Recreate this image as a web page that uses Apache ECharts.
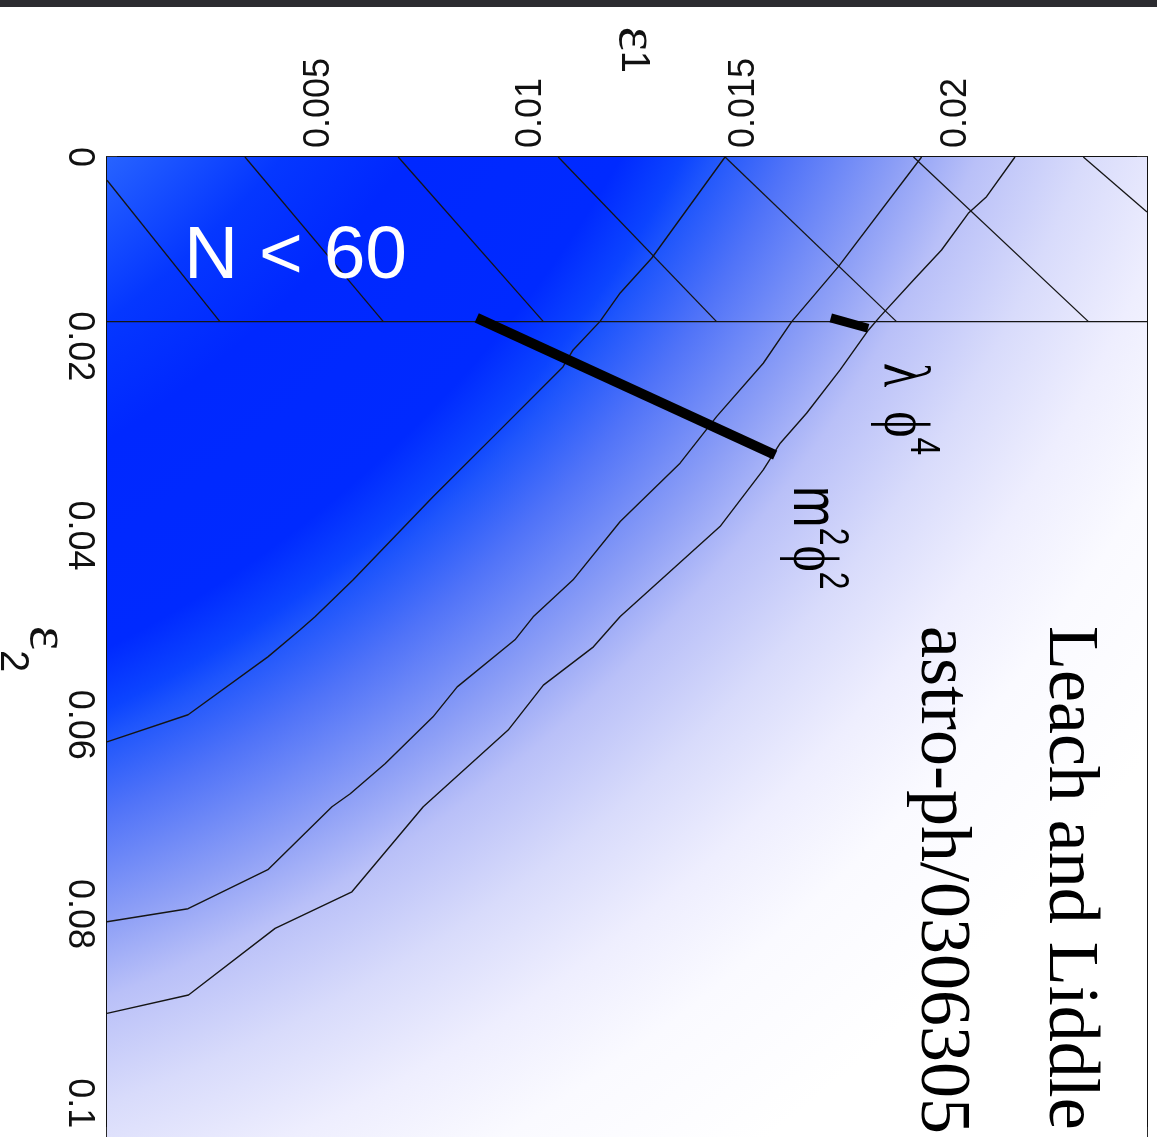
<!DOCTYPE html>
<html>
<head>
<meta charset="utf-8">
<script src="https://cdn.jsdelivr.net/npm/echarts@6/dist/echarts.min.js"></script>
<style>
html, body { margin: 0; padding: 0; background: #ffffff; }
#chart { width: 1157px; height: 1137px; }
</style>
</head>
<body>
<div id="chart"></div>
<script>
// ---------- axes ----------
const eps1Range = [0, 0.0245];
const eps2Range = [0, 0.104];
const eps1Ticks = [0, 0.005, 0.01, 0.015, 0.02];
const eps1TickLabels = ['0', '0.005', '0.01', '0.015', '0.02'];
const eps2Ticks = [0, 0.02, 0.04, 0.06, 0.08, 0.1];
const eps2TickLabels = ['0', '0.02', '0.04', '0.06', '0.08', '0.1'];

// ---------- contour lines, points as [eps1, eps2] ----------
const contourA = [
  [0.01456, 0], [0.01283, 0.01070], [0.01209, 0.01437], [0.01161, 0.01740],
  [0.01098, 0.02039], [0.01074, 0.02219], [0.00926, 0.02884], [0.00768, 0.03592],
  [0.00580, 0.04469], [0.00490, 0.04860], [0.00455, 0.04997], [0.00379, 0.05283],
  [0.00191, 0.05895], [0, 0.06181]
];
const contourB = [
  [0.01919, 0], [0.01723, 0.01159], [0.01613, 0.01740], [0.01546, 0.02180],
  [0.01436, 0.02744], [0.01350, 0.03236], [0.01209, 0.03853], [0.01098, 0.04469],
  [0.01004, 0.04860], [0.00961, 0.05103], [0.00825, 0.05600], [0.00768, 0.05917],
  [0.00655, 0.06413], [0.00573, 0.06730], [0.00530, 0.06867], [0.00379, 0.07533],
  [0.00191, 0.07945], [0, 0.08083]
];
const contourC = [
  [0.02139, 0], [0.02072, 0.00419], [0.02029, 0.00595], [0.01966, 0.00983],
  [0.01900, 0.01300], [0.01821, 0.01687], [0.01794, 0.01828], [0.01727, 0.02250],
  [0.01648, 0.02708], [0.01586, 0.03025], [0.01546, 0.03307], [0.01444, 0.03906],
  [0.01209, 0.04857], [0.01146, 0.05177], [0.01028, 0.05582], [0.00945, 0.06057],
  [0.00745, 0.06867], [0.00577, 0.07766], [0.00396, 0.08153], [0.00192, 0.08857],
  [0, 0.09051]
];

// N < 60 boundary (constant eps2) and hatch lines of that region
const nBoundaryEps2 = 0.0174;
const hatch1 = [[0, 0.00246], [0.00266, 0.0174]];
const hatch2 = [[0.00325, 0], [0.00651, 0.0174]];
const hatch3 = [[0.00686, 0], [0.01028, 0.0174]];
const hatch4 = [[0.01063, 0], [0.01436, 0.0174]];
const hatch5 = [[0.01456, 0], [0.01860, 0.0174]];
const hatch6 = [[0.01900, 0], [0.02312, 0.0174]];
const hatch7 = [[0.02300, 0], [0.02450, 0.00581]];

// model predictions (thick segments)
const m2phi2Track = [[0.00871, 0.0170], [0.01574, 0.03149]];
const lphi4Track = [[0.01705, 0.0170], [0.01793, 0.01810]];

// likelihood shading: centre of the radial falloff, in [eps1, eps2]
const shadeCenter = [-0.0131, -0.0641];

// ---------- chart ----------
const chart = echarts.init(document.getElementById('chart'), null, { renderer: 'canvas', width: 1157, height: 1137 });

const SANS = '"Liberation Sans", Arial, sans-serif';
const SERIF = '"Liberation Serif", "DejaVu Serif", serif';

function labelFor(ticks, labels, hideZero) {
  return function (v) {
    for (let i = 0; i < ticks.length; i++) {
      if (Math.abs(ticks[i] - v) < 1e-9) {
        if (hideZero && i === 0) return '';
        return labels[i];
      }
    }
    return '';
  };
}

function thinLine(name, data, width) {
  return {
    type: 'line', name: name, data: data, xAxisIndex: 0, yAxisIndex: 0,
    showSymbol: false, symbol: 'none', silent: true, clip: true, z: 3,
    lineStyle: { color: '#151515', width: width || 1.4, cap: 'butt' }
  };
}
function thickLine(name, data, width) {
  return {
    type: 'line', name: name, data: data, xAxisIndex: 0, yAxisIndex: 0,
    showSymbol: false, symbol: 'none', silent: true, clip: true, z: 5,
    lineStyle: { color: '#000000', width: width, cap: 'butt' }
  };
}

const shadeStops = [
  { offset: 0.00, color: 'rgb(50,110,255)' },
  { offset: 0.41, color: 'rgb(40,100,255)' },
  { offset: 0.475, color: 'rgb(5,55,255)' },
  { offset: 0.525, color: 'rgb(0,40,255)' },
  { offset: 0.615, color: 'rgb(0,42,255)' },
  { offset: 0.6425, color: 'rgb(12,68,255)' },
  { offset: 0.655, color: 'rgb(30,85,252)' },
  { offset: 0.69, color: 'rgb(80,115,248)' },
  { offset: 0.739, color: 'rgb(140,158,246)' },
  { offset: 0.775, color: 'rgb(185,192,248)' },
  { offset: 0.825, color: 'rgb(216,219,251)' },
  { offset: 0.875, color: 'rgb(238,238,254)' },
  { offset: 0.925, color: 'rgb(250,250,255)' },
  { offset: 1.00, color: 'rgb(255,255,255)' }
];

const axisLineStyle = { color: '#111111', width: 2 };
const tickStyle = { show: true, inside: true, length: 10, lineStyle: { color: '#333333', width: 1.5 } };
const bottomTickStyle = { show: true, inside: true, length: 14, lineStyle: { color: '#333333', width: 1.5 } };

const option = {
  animation: false,
  backgroundColor: '#ffffff',
  grid: { left: 107, top: 157, width: 1040, height: 984, containLabel: false, outerBoundsMode: 'none' },
  xAxis: [
    {
      type: 'value', position: 'top', min: eps1Range[0], max: eps1Range[1], interval: 0.005,
      axisLine: { show: true, onZero: false, lineStyle: axisLineStyle },
      axisTick: tickStyle,
      splitLine: { show: false },
      axisLabel: {
        rotate: -90, margin: 9, fontSize: 36, fontFamily: SANS, color: '#111111',
        showMinLabel: false, showMaxLabel: false,
        formatter: labelFor(eps1Ticks, eps1TickLabels, true)
      },
      name: '{e|ε}{s|1}', nameLocation: 'middle', nameGap: 84, nameRotate: -90, nameMoveOverlap: false,
      nameTextStyle: {
        rich: {
          e: { fontFamily: SERIF, fontSize: 58, lineHeight: 58, color: '#111111', verticalAlign: 'bottom', padding: [0, 0, 8, 0] },
          s: { fontFamily: SANS, fontSize: 40, lineHeight: 40, color: '#111111', verticalAlign: 'bottom', padding: [0, 0, 15, 0] }
        }
      }
    },
    {
      type: 'value', position: 'bottom', min: eps1Range[0], max: eps1Range[1], interval: 0.005,
      axisLine: { show: true, onZero: false, lineStyle: axisLineStyle },
      axisTick: bottomTickStyle, axisLabel: { show: false }, splitLine: { show: false }
    }
  ],
  yAxis: [
    {
      type: 'value', position: 'left', inverse: true, min: eps2Range[0], max: eps2Range[1], interval: 0.02,
      axisLine: { show: true, onZero: false, lineStyle: axisLineStyle },
      axisTick: tickStyle,
      splitLine: { show: false },
      axisLabel: {
        rotate: -90, margin: 10, fontSize: 36, fontFamily: SANS, color: '#111111',
        showMinLabel: true, showMaxLabel: false,
        formatter: labelFor(eps2Ticks, eps2TickLabels, false)
      },
      name: '{e|ε}{s|2}', nameLocation: 'middle', nameGap: 57, nameRotate: -90, nameMoveOverlap: false,
      nameTextStyle: {
        rich: {
          e: { fontFamily: SERIF, fontSize: 58, lineHeight: 58, color: '#111111', verticalAlign: 'bottom', padding: [0, 0, 25, 0] },
          s: { fontFamily: SANS, fontSize: 40, lineHeight: 40, color: '#111111', verticalAlign: 'bottom' }
        }
      }
    },
    {
      type: 'value', position: 'right', inverse: true, min: eps2Range[0], max: eps2Range[1], interval: 0.02,
      axisLine: { show: true, onZero: false, lineStyle: axisLineStyle },
      axisTick: tickStyle, axisLabel: { show: false }, splitLine: { show: false }
    }
  ],
  series: [
    {
      type: 'custom', name: 'likelihood', xAxisIndex: 0, yAxisIndex: 0, silent: true, clip: true, z: 1,
      data: [shadeCenter],
      renderItem: function (params, api) {
        const c = api.coord([api.value(0), api.value(1)]);
        const cs = params.coordSys;
        return {
          type: 'rect',
          shape: { x: cs.x, y: cs.y, width: cs.width, height: cs.height },
          style: { fill: new echarts.graphic.RadialGradient(c[0], c[1], 2000, shadeStops, true) }
        };
      }
    },
    thinLine('contour 1', contourA),
    thinLine('contour 2', contourB),
    thinLine('contour 3', contourC),
    thinLine('N = 60', [[eps1Range[0], nBoundaryEps2], [eps1Range[1], nBoundaryEps2]], 1.4),
    thinLine('hatch', hatch1, 1.3),
    thinLine('hatch', hatch2, 1.3),
    thinLine('hatch', hatch3, 1.3),
    thinLine('hatch', hatch4, 1.3),
    thinLine('hatch', hatch5, 1.3),
    thinLine('hatch', hatch6, 1.3),
    thinLine('hatch', hatch7, 1.3),
    thickLine('m2phi2', m2phi2Track, 10),
    thickLine('lphi4', lphi4Track, 9)
  ],
  graphic: [
    { type: 'rect', x: 0, y: 0, shape: { x: 0, y: 0, width: 1157, height: 7 }, style: { fill: '#2c2c30' }, z: 100, silent: true },
    {
      type: 'text', x: 184, y: 257, z: 100, silent: true,
      style: { text: 'N < 60', fontSize: 75, fontFamily: SANS, fill: '#ffffff', align: 'left', verticalAlign: 'middle' }
    },
    {
      type: 'text', x: 1069, y: 626, rotation: -Math.PI / 2, z: 100, silent: true,
      style: { text: 'Leach and Liddle', fontSize: 72, fontFamily: SERIF, fill: '#000000', align: 'left', verticalAlign: 'middle' }
    },
    {
      type: 'text', x: 941, y: 626, rotation: -Math.PI / 2, z: 100, silent: true,
      style: { text: 'astro-ph/0306305', fontSize: 72, fontFamily: SERIF, fill: '#000000', align: 'left', verticalAlign: 'middle' }
    },
    {
      type: 'text', x: 870, y: 363, rotation: -Math.PI / 2, scaleY: 1.3, z: 100, silent: true,
      style: {
        text: '{l|λ}{g|ϕ}{s|4}', align: 'left', verticalAlign: 'bottom',
        rich: {
          l: { fontFamily: SERIF, fontSize: 50, lineHeight: 50, fill: '#000000', verticalAlign: 'bottom', padding: [0, 24, 0, 0] },
          g: { fontFamily: SERIF, fontSize: 50, lineHeight: 50, fill: '#000000', verticalAlign: 'bottom' },
          s: { fontFamily: SANS, fontSize: 32, lineHeight: 32, fill: '#000000', verticalAlign: 'bottom', padding: [0, 0, 24, 0] }
        }
      }
    },
    {
      type: 'text', x: 779, y: 486, rotation: -Math.PI / 2, scaleY: 1.3, z: 100, silent: true,
      style: {
        text: '{m|m}{s|2}{g|ϕ}{s|2}', align: 'left', verticalAlign: 'bottom',
        rich: {
          m: { fontFamily: SANS, fontSize: 50, lineHeight: 50, fill: '#000000', verticalAlign: 'bottom' },
          g: { fontFamily: SERIF, fontSize: 50, lineHeight: 50, fill: '#000000', verticalAlign: 'bottom' },
          s: { fontFamily: SANS, fontSize: 32, lineHeight: 32, fill: '#000000', verticalAlign: 'bottom', padding: [0, 0, 24, 0] }
        }
      }
    }
  ]
};

chart.setOption(option);
</script>
</body>
</html>
